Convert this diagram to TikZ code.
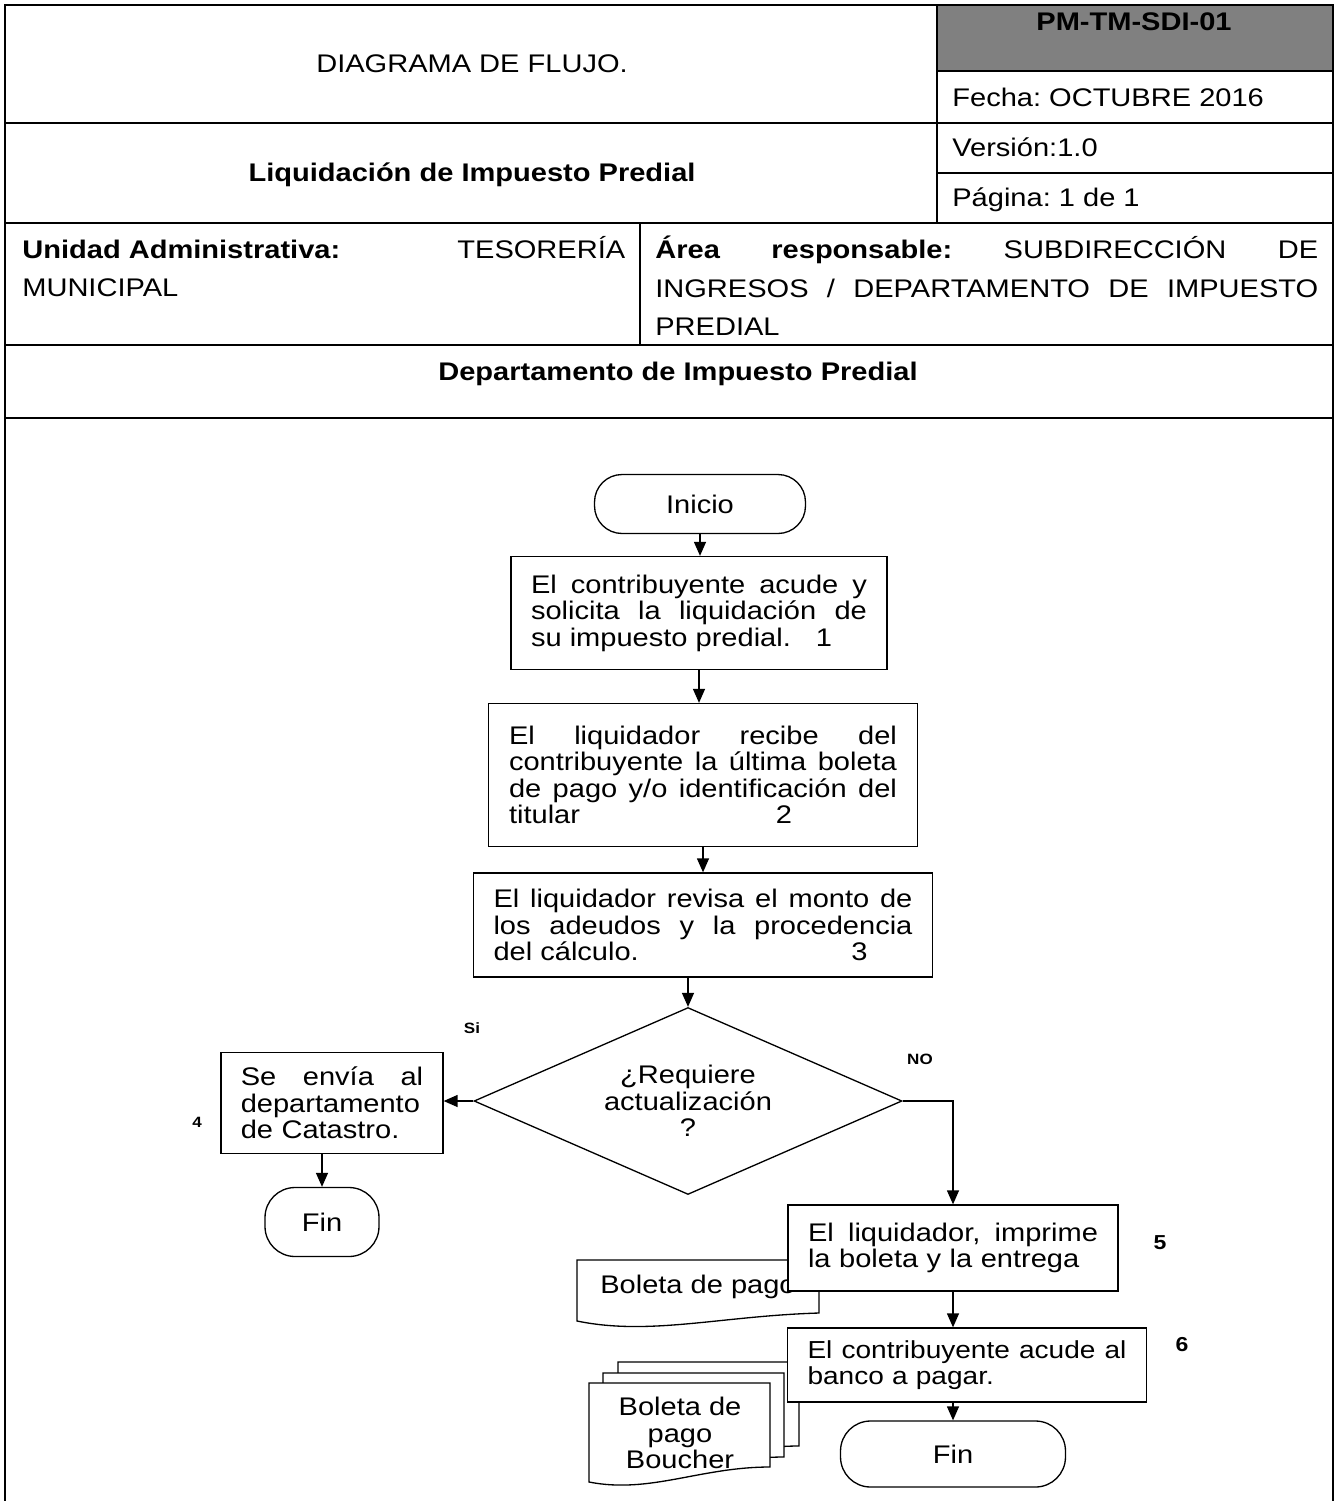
\documentclass[tikz,border=0pt]{standalone}
\usepackage{fontspec}
\setmainfont[FakeStretch=1.14]{Liberation Sans}
\usetikzlibrary{shapes.geometric,arrows.meta}
\setlength{\parindent}{0pt}
\frenchspacing
\newcommand{\jline}[1]{{\spaceskip=0pt\xspaceskip=0pt\makebox[\hsize][s]{#1}}}

\begin{document}
\begin{tikzpicture}[
  x=0.02cm, y=-0.02cm,
  every node/.style={inner sep=0pt},
  flowtxt/.style={font=\fontsize{14.5}{15.1}\selectfont},
  hdrtxt/.style={font=\fontsize{14.5}{21.8}\selectfont},
  hdrbold/.style={font=\fontsize{14.5}{21.8}\selectfont\bfseries},
  proc/.style={draw, fill=white, line width=0.75pt, flowtxt, align=left},
  terminal/.style={draw, fill=white, line width=0.75pt, rounded corners=0.55cm, flowtxt},
  decide/.style={diamond, aspect=2.29, draw, fill=white, line width=0.75pt, flowtxt, align=center},
  docbox/.style={draw, fill=white, line width=0.75pt},
  numlbl/.style={font=\fontsize{8.5}{10}\selectfont\bfseries},
  biglbl/.style={font=\fontsize{11.5}{13}\selectfont\bfseries},
  flecha/.style={-{Triangle[length=0.28cm,width=0.24cm]}, line width=0.75pt},
  tabla/.style={line width=1.2pt},
  celda/.style={line width=0.9pt},
]
\useasboundingbox (0,0) rectangle (1335,1501);

% encabezado
\fill[gray] (937,5) rectangle (1333,71);
\draw[tabla] (5,1501) -- (5,5) -- (1333,5) -- (1333,1501);
\foreach \yy in {123,223,345,418} {
  \draw[tabla] (5,\yy) -- (1333,\yy);
}
\draw[tabla] (937,5) -- (937,223);
\draw[celda] (937,71) -- (1333,71);
\draw[celda] (937,173) -- (1333,173);
\draw[celda] (640,223) -- (640,345);

\node[hdrtxt, anchor=base] (titulo) at (472,72) {DIAGRAMA DE FLUJO.};
\node[hdrbold, anchor=base] (proceso) at (472,181) {Liquidación de Impuesto Predial};
\node[hdrbold, anchor=base] (codigo) at (1134,31) {PM-TM-SDI-01};
\node[hdrtxt, anchor=base west] (fecha) at (952,106) {Fecha: OCTUBRE 2016};
\node[hdrtxt, anchor=base west] (version) at (952,156) {Versión:1.0};
\node[hdrtxt, anchor=base west] (pagina) at (952,206) {Página: 1 de 1};
\node[hdrtxt, anchor=north west, text width=12.06cm, align=left] (unidad) at (22,236)
  {\jline{\textbf{Unidad Administrativa:}\hfill TESORERÍA}\\MUNICIPAL};
\node[hdrtxt, anchor=north west, text width=13.26cm, align=left] (area) at (655,236)
  {\jline{\textbf{Área\hfill responsable:}\hfill SUBDIRECCIÓN\hfill DE}\\
   \jline{INGRESOS\hfill /\hfill DEPARTAMENTO\hfill DE\hfill IMPUESTO}\\PREDIAL};
\node[hdrbold, anchor=base] (depto) at (678,380) {Departamento de Impuesto Predial};

% diagrama
\node[terminal, minimum width=4.22cm, minimum height=1.18cm] (inicio) at (700,504) {Inicio};
\node[proc, minimum width=7.52cm, minimum height=2.26cm, text width=6.72cm] (paso1) at (699,613)
  {\jline{El contribuyente acude y}\\\jline{solicita la liquidación de}\\
   \jline{su impuesto predial.\hfill 1\hspace*{0.7cm}}};
\node[proc, minimum width=8.58cm, minimum height=2.86cm, text width=7.76cm] (paso2) at (703,775)
  {\jline{El liquidador recibe del}\\\jline{contribuyente la última boleta}\\
   \jline{de pago y/o identificación del}\\\jline{titular\hfill 2\hspace*{2.1cm}}};
\node[proc, minimum width=9.18cm, minimum height=2.08cm, text width=8.38cm] (paso3) at (703,925)
  {\jline{El liquidador revisa el monto de}\\\jline{los adeudos y la procedencia}\\
   \jline{del cálculo.\hfill 3\hspace*{0.9cm}}};
\node[decide, minimum width=8.56cm, minimum height=3.74cm] (pregunta) at (688,1101)
  {¿Requiere\\actualización\\?};
\node[proc, minimum width=4.44cm, minimum height=2.02cm, text width=3.65cm] (paso4) at (332,1103)
  {\jline{Se envía al}\\departamento\\de Catastro.};
\node[terminal, minimum width=2.28cm, minimum height=1.38cm, rounded corners=0.6cm] (fin1) at (322,1222) {Fin};

% documentos
\draw[docbox] (577,1260) -- (819,1260) -- (819,1313)
  .. controls (720,1316) and (650,1336) .. (577,1321) -- cycle;
\node[flowtxt] (boleta) at (698,1287) {Boleta de pago};
\foreach \dx/\dy in {29/-21, 14/-10, 0/0} {
  \begin{scope}[shift={(\dx,\dy)}]
    \draw[docbox] (589,1383) -- (770,1383) -- (770,1467)
      .. controls (700,1467) and (650,1494) .. (589,1482) -- cycle;
  \end{scope}
}
\node[flowtxt, align=center] (boucher) at (680,1433) {Boleta de\\pago\\Boucher};

\node[proc, minimum width=6.6cm, minimum height=1.72cm, text width=5.8cm] (paso5) at (953,1248)
  {\jline{El liquidador, imprime}\\la boleta y la entrega};
\node[proc, font=\fontsize{14}{15.1}\selectfont, minimum width=7.18cm, minimum height=1.48cm, text width=6.38cm] (paso6) at (967,1365)
  {\jline{El contribuyente acude al}\\banco a pagar.};
\node[terminal, minimum width=4.5cm, minimum height=1.32cm, rounded corners=0.6cm] (fin2) at (953,1454) {Fin};

\node[numlbl] (si) at (472,1028) {Si};
\node[numlbl] (no) at (920,1059) {NO};
\node[numlbl] (num4) at (197,1122) {4};
\node[biglbl] (num5) at (1160,1243) {5};
\node[biglbl] (num6) at (1182,1345) {6};

\draw[flecha] (inicio.south) -- (inicio.south |- paso1.north);
\draw[flecha] (paso1.south) -- (paso1.south |- paso2.north);
\draw[flecha] (paso2.south) -- (paso2.south |- paso3.north);
\draw[flecha] (pregunta.north |- paso3.south) -- (pregunta.north);
\draw[flecha] (pregunta.west) -- (pregunta.west -| paso4.east);
\draw[flecha] (fin1.north |- paso4.south) -- (fin1.north);
\draw[flecha] (pregunta.east) -| (paso5.north);
\draw[flecha] (paso5.south) -- (paso5.south |- paso6.north);
\draw[flecha] (fin2.north |- paso6.south) -- (fin2.north);
\end{tikzpicture}
\end{document}
